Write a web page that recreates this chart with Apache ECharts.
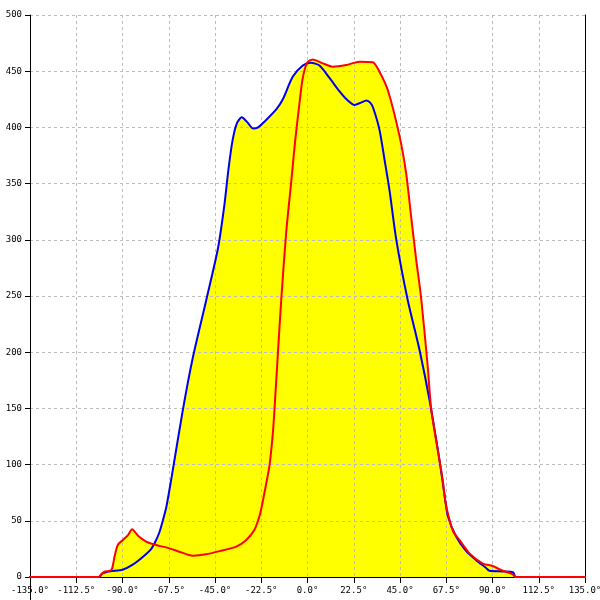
<!DOCTYPE html>
<html>
<head>
<meta charset="utf-8">
<script src="https://cdn.jsdelivr.net/npm/echarts@6/dist/echarts.min.js"></script>
<style>html,body{margin:0;padding:0;background:#fff}#c{width:600px;height:600px}</style>
</head>
<body>
<div id="c"></div>
<script>
const blueAngles = [-101,-100,-96,-90,-85,-80,-76,-73.6,-72,-70.4,-68.6,-66,-60.7,-55.8,-49.3,-43.6,-40.5,-38.5,-36.5,-34.5,-32,-29,-26.5,-24,-21,-15.2,-12,-7.2,-2.3,1.5,5.8,10.7,15.6,19,22.9,26,28.6,30.5,32,35,37.5,39.9,43.2,48.8,54.5,59.4,64.2,66.5,68.3,72.3,77.2,82,86.9,88.5,95,99.9,101];
const blueValues = [0,3,5,6.5,11,18,25,33,40,50,63,90,148,195,246,292,330,362,388,403,409,404,399,400,405,416,425,445,455,457.5,455,444,432,425,420,422,424,422,417,398,371,344,300,246,202,157,104,75,54,36,23,15,8,5.5,5,4.2,0];

const redAngles = [-180,-101.5,-101,-98.8,-95.5,-94.5,-93.9,-92.3,-89.8,-87.4,-85.3,-82.6,-78.5,-73.6,-67.1,-62.3,-55.8,-49.3,-42.8,-34.7,-29.8,-25.8,-23.4,-22,-20.1,-18.5,-16.9,-16.1,-14.4,-12.8,-10.4,-7.9,-6,-4,-2.5,-1,0.2,2.6,7.4,12.3,18.8,25.3,31.8,35,39.1,44.8,48,50.4,52.9,55.3,58.5,60.2,64.2,65.8,67,69.1,71,73.9,78.8,85.3,90.1,94.2,99.9,101,180];
const redValues = [0,0,1,4.7,6,12,18,28.5,33,37,42.5,37,31.5,28.5,25.5,22.5,19,20.2,23,27,33,42,54,65,83,99,127,148,199,246,306,352,388,420,442,454,458.5,460.5,457,454,455.5,458.5,458,449.5,433,392,359,321,282,248,187,149,104,86,68,50.7,40,33,21,12,9.8,6.2,2.4,0,0];

const xTickStep = 22.5;
const xMin = -135, xMax = 135;
const yMin = 0, yMax = 500, yStep = 50;

const blueData = blueAngles.map((a, i) => [a, blueValues[i]]);
const redData = redAngles.map((a, i) => [a, redValues[i]]);

const chart = echarts.init(document.getElementById('c'), null, {renderer: 'canvas'});
const font = 'DejaVu Sans Mono';
const gridLine = {show: true, lineStyle: {color: '#bdbdbd', type: [3, 3], width: 1}};
const sm = 0.25;

chart.setOption({
  animation: false,
  backgroundColor: '#ffffff',
  grid: {left: 30, right: 15, top: 15, bottom: 23, containLabel: false, outerBoundsMode: 'none'},
  xAxis: {
    type: 'value', min: xMin, max: xMax, interval: xTickStep, z: 2,
    axisLine: {show: true, onZero: false, lineStyle: {color: '#000', width: 1}},
    axisTick: {show: true, length: 6, lineStyle: {color: '#000'}},
    axisLabel: {color: '#000', fontFamily: font, fontSize: 9, margin: 9,
      formatter: v => v.toFixed(1) + '°', showMinLabel: true, showMaxLabel: true},
    splitLine: gridLine
  },
  yAxis: [{
    type: 'value', min: yMin, max: yMax, interval: yStep, z: 2, position: 'left',
    axisLine: {show: true, onZero: false, lineStyle: {color: '#000', width: 1}},
    axisTick: {show: true, length: 5, lineStyle: {color: '#000'}},
    axisLabel: {color: '#000', fontFamily: font, fontSize: 9, margin: 8},
    splitLine: gridLine
  }, {
    type: 'value', min: yMin, max: yMax, interval: yStep, position: 'right', z: 2,
    axisLine: {show: true, onZero: false, lineStyle: {color: '#000', width: 1}},
    axisTick: {show: false}, axisLabel: {show: false}, splitLine: {show: false}
  }],
  graphic: [{
    type: 'line', z: 2, shape: {x1: 30.5, y1: 577, x2: 30.5, y2: 600},
    style: {stroke: '#000', lineWidth: 1}
  }],
  series: [
    {type: 'line', data: blueData, z: 1, symbol: 'none', smooth: sm,
      lineStyle: {width: 0, opacity: 0}, areaStyle: {color: '#ffff00', opacity: 1}},
    {type: 'line', data: redData, z: 1, symbol: 'none', smooth: sm,
      lineStyle: {width: 0, opacity: 0}, areaStyle: {color: '#ffff00', opacity: 1}},
    {type: 'line', data: blueData, z: 3, symbol: 'none', smooth: sm,
      lineStyle: {width: 2, color: '#0000ee'}},
    {type: 'line', data: redData, z: 4, symbol: 'none', smooth: sm, clip: false,
      lineStyle: {width: 2, color: '#ff0000'}}
  ]
});
</script>
</body>
</html>
